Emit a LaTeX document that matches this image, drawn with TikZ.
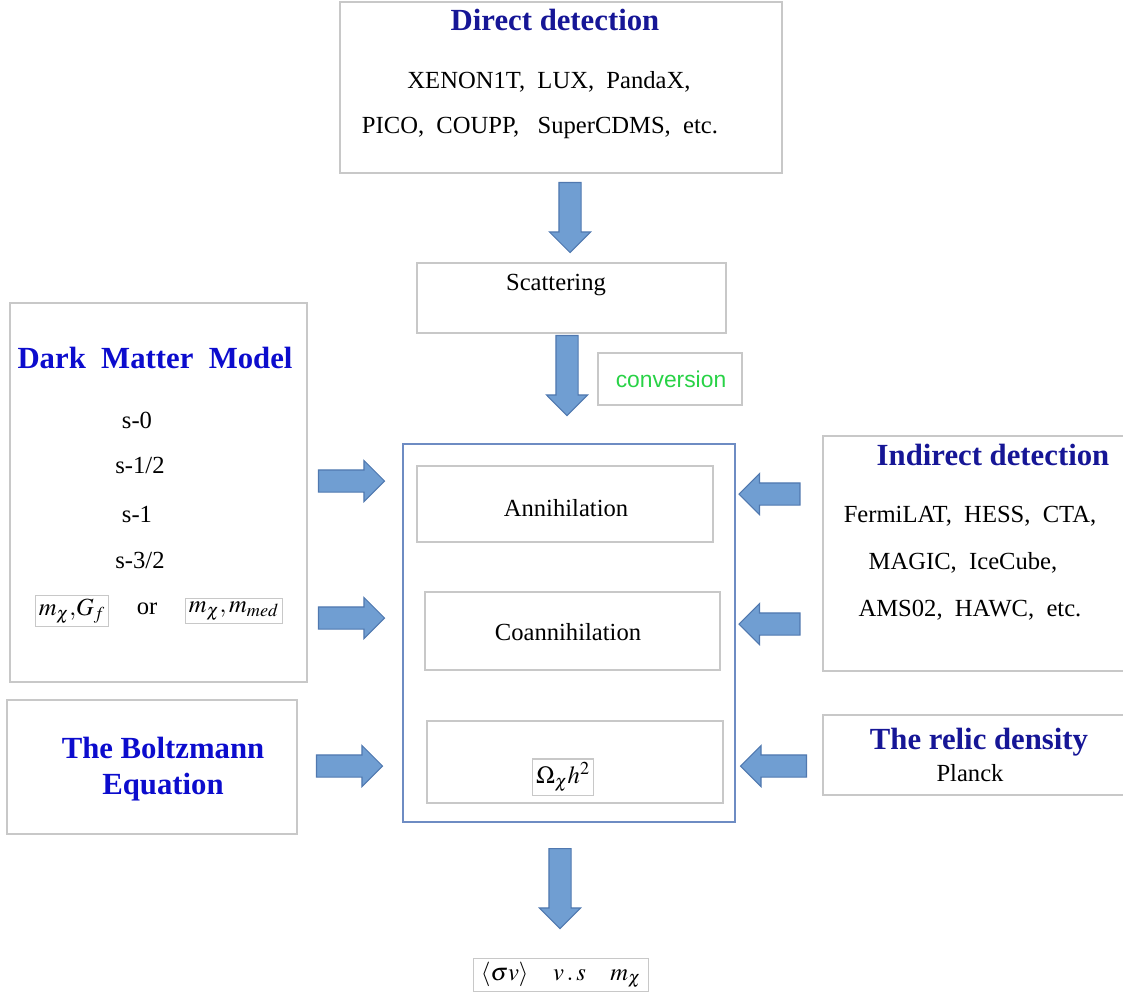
\documentclass[tikz,border=0pt]{standalone}
\usepackage{mathptmx}
\usepackage{fontspec}
\setmainfont{Liberation Serif}
\setsansfont{Liberation Sans}
\usetikzlibrary{positioning, shapes.arrows}
\definecolor{navy}{RGB}{22,22,150}
\definecolor{brightblue}{RGB}{12,12,205}
\definecolor{boxgray}{RGB}{200,200,200}
\definecolor{frameblue}{RGB}{110,140,195}
\definecolor{arrowfill}{RGB}{112,158,210}
\definecolor{arrowline}{RGB}{80,120,175}
\definecolor{convgreen}{RGB}{40,210,70}
\tikzset{
  box/.style={draw=boxgray, line width=0.8pt, rectangle, inner sep=0pt},
  title/.style={font=\fontsize{17.5}{21}\selectfont\bfseries, text=navy},
  item/.style={font=\fontsize{14}{17}\selectfont},
  mathbox/.style={draw=boxgray, line width=0.6pt, inner sep=2pt, font=\fontsize{14}{17}\selectfont},
  blockarrow/.style={single arrow, draw=arrowline, fill=arrowfill, line width=0.6pt,
    inner xsep=0pt, inner ysep=0.21cm, single arrow head extend=0.19cm, minimum height=#1},
}
\begin{document}
\begin{tikzpicture}[x=0.02cm, y=-0.02cm]
  \useasboundingbox (0,0) rectangle (1123,994);
  % boxes
  \node[box, minimum width=8.84cm, minimum height=3.42cm] (direct) at (561,87.5) {};
  \node[box, minimum width=6.18cm, minimum height=1.4cm] (scatter) at (571.5,298) {};
  \node[box, minimum width=2.88cm, minimum height=1.04cm] (convbox) at (670,379) {};
  \node[box, draw=frameblue, minimum width=6.64cm, minimum height=7.56cm] (relic) at (569,633) {};
  \node[box, minimum width=5.92cm, minimum height=1.52cm] (annih) at (565,504) {};
  \node[box, minimum width=5.9cm, minimum height=1.56cm] (coannih) at (572.5,631) {};
  \node[box, minimum width=5.92cm, minimum height=1.64cm] (omega) at (575,762) {};
  \node[box, minimum width=5.94cm, minimum height=7.58cm] (model) at (158.5,492.5) {};
  \node[box, minimum width=5.8cm, minimum height=2.68cm] (boltz) at (152,767) {};
  \node[box, minimum width=6.14cm, minimum height=4.7cm] (indirect) at (976.5,553.5) {};
  \node[box, minimum width=6.14cm, minimum height=1.6cm] (density) at (976.5,755) {};

  % direct detection
  \node[title] (directtitle) at (555,20) {Direct detection};
  \node[item] (direct1) at (549,82) {XENON1T,\ \ LUX,\ \ PandaX,};
  \node[item] (direct2) at (540,128) {PICO,\ \ COUPP,\ \ \ SuperCDMS,\ \ etc.};
  \node[item] (scattertext) at (556,285) {Scattering};
  \node[font=\sffamily\fontsize{13}{16}\selectfont, text=convgreen] (convtext) at (671,379) {conversion};

  % centre column
  \node[item] (annihtext) at (566,508) {Annihilation};
  \node[item] (coannihtext) at (568,632) {Coannihilation};
  \node[mathbox] (omegatext) at (563,777) {$\Omega_\chi h^2$};
  \node[mathbox, inner xsep=4pt] (result) at (561,975) {$\langle\sigma v\rangle\ \ \ \ v\,.\,s\ \ \ \ m_\chi$};

  % dark matter model
  \node[title, text=brightblue] (modeltitle) at (155,358) {Dark\ \ Matter\ \ Model};
  \node[item] (s0) at (137,420) {s-0};
  \node[item] (s12) at (140,465) {s-1/2};
  \node[item] (s1) at (137,514) {s-1};
  \node[item] (s32) at (140,560) {s-3/2};
  \node[mathbox] (params1) at (72,611) {$m_\chi,\!G_f$};
  \node[item] (ortext) at (147,609) {or};
  \node[mathbox] (params2) at (234,611) {$m_\chi,m_{med}$};
  \node[title, text=brightblue, align=center, font=\fontsize{17.5}{20.5}\selectfont\bfseries] (boltztext) at (163,769) {The Boltzmann\\Equation};

  % indirect detection
  \node[title] (indirecttitle) at (993,455) {Indirect detection};
  \node[item] (indirect1) at (970,516) {FermiLAT,\ \ HESS,\ \ CTA,};
  \node[item] (indirect2) at (963,563) {MAGIC,\ \ IceCube,};
  \node[item] (indirect3) at (970,610) {AMS02,\ \ HAWC,\ \ etc.};
  \node[title] (densitytitle) at (979,742) {The relic density};
  \node[item] (planck) at (970,773) {Planck};

  % arrows
  \node[blockarrow=1.4cm, rotate=-90] (down1) at (570,212) {};
  \node[blockarrow=1.6cm, rotate=-90] (down2) at (567,370) {};
  \node[blockarrow=1.6cm, rotate=-90] (down3) at (560,883) {};
  \node[blockarrow=1.32cm] (right1) at (346,481) {};
  \node[blockarrow=1.32cm] (right2) at (346,618) {};
  \node[blockarrow=1.32cm] (right3) at (344,766) {};
  \node[blockarrow=1.22cm, rotate=180] (left1) at (775,494) {};
  \node[blockarrow=1.22cm, rotate=180] (left2) at (775,624) {};
  \node[blockarrow=1.32cm, rotate=180] (left3) at (779,766) {};
\end{tikzpicture}
\end{document}
